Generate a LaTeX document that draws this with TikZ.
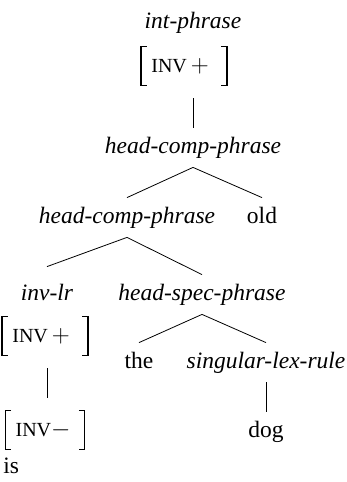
\documentclass[tikz,border=0pt]{standalone}
\usepackage{fontspec}
\setmainfont{Liberation Serif}
\usetikzlibrary{positioning}

\tikzset{
  word/.style={font=\fontsize{23.5}{28}\selectfont, text height=16pt, text depth=5pt,
    inner xsep=0pt, inner ysep=9pt, anchor=base},
  type/.style={word, font=\fontsize{23.5}{28}\selectfont\itshape},
  avm/.style={font=\fontsize{23.5}{28}\selectfont, inner xsep=10pt, inner ysep=13pt,
    minimum height=64pt},
  bracket/.style={line width=1.1pt}
}
% small capitals for feature names
\newcommand{\fname}[1]{{\fontsize{20}{24}\selectfont #1}}
% square brackets round a feature matrix, 13pt inside its top and bottom
\newcommand{\brackets}[1]{%
  \draw[bracket] ([xshift=6pt,yshift=-13pt]#1.north west) -- ([yshift=-13pt]#1.north west)
    -- ([yshift=13pt]#1.south west) -- ([xshift=6pt,yshift=13pt]#1.south west);
  \draw[bracket] ([xshift=-6pt,yshift=-13pt]#1.north east) -- ([yshift=-13pt]#1.north east)
    -- ([yshift=13pt]#1.south east) -- ([xshift=-6pt,yshift=13pt]#1.south east);}

\begin{document}
\begin{tikzpicture}[x=1pt, y=-1pt, line width=0.8pt]
\path[use as bounding box] (0,0) rectangle (347,482);
% top of the tree
\node[type] (intp) at (193,28) {int-phrase};
\node[avm] (avmA) at (184,66) {\fname{INV}\,$+$\,\,};
\node[type] (hcpA) at (193,153) {head-comp-phrase};
\node[type] (hcpB) at (127,223) {head-comp-phrase};
\node[word] (old) at (262,223) {old};
% subject-aux inversion branch
\node[type] (invlr) at (47,300) {inv-lr};
\node[avm] (avmB) at (45,336) {\fname{INV}\,$+$\,\,};
\node[avm] (avmC) at (45,430) {\fname{INV}$-$\,};
\node[word, anchor=base west] (is) at (3,473) {is};
% noun phrase
\node[type] (hsp) at (202,300) {head-spec-phrase};
\node[word] (the) at (139,368) {the};
\node[type] (slr) at (266,368) {singular-lex-rule};
\node[word] (dog) at (266,437) {dog};

\brackets{avmA}
\brackets{avmB}
\brackets{avmC}

\draw (avmA.south -| intp) -- (hcpA.north);
\draw (hcpA.south) -- (hcpB.north);
\draw (hcpA.south) -- (old.north);
\draw (hcpB.south) -- ([yshift=8pt]invlr.north);
\draw (hcpB.south) -- (hsp.north);
\draw (avmB.south -| invlr) -- (avmC.north -| invlr);
\draw (hsp.south) -- (the.north);
\draw (hsp.south) -- (slr.north);
\draw (slr.south) -- (dog.north);
\end{tikzpicture}
\end{document}
